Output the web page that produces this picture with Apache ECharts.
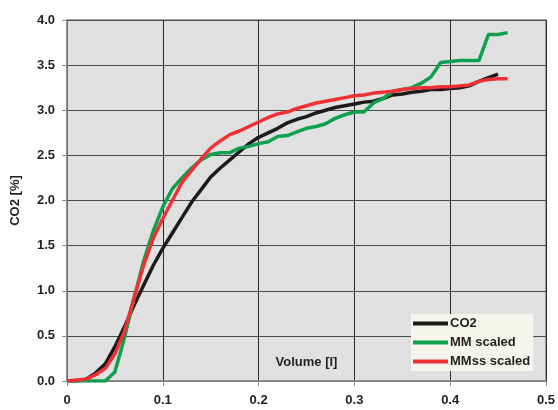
<!DOCTYPE html>
<html>
<head>
<meta charset="utf-8">
<script src="https://cdn.jsdelivr.net/npm/echarts@6/dist/echarts.min.js"></script>
<style>
  html, body { margin: 0; padding: 0; background: #fff; }
  #chart { width: 558px; height: 410px; }
</style>
</head>
<body>
<div id="chart"></div>
<script>
// volume steps [l]
var volume = [0, 0.01, 0.02, 0.03, 0.04, 0.05, 0.06, 0.07, 0.08, 0.09,
  0.10, 0.11, 0.12, 0.13, 0.14, 0.15, 0.16, 0.17, 0.18, 0.19,
  0.20, 0.21, 0.22, 0.23, 0.24, 0.25, 0.26, 0.27, 0.28, 0.29,
  0.30, 0.31, 0.32, 0.33, 0.34, 0.35, 0.36, 0.37, 0.38, 0.39,
  0.40, 0.41, 0.42, 0.43, 0.44, 0.45, 0.46];

// CO2 [%] (measured, ends at 0.45)
var co2 = [0, 0, 0.02, 0.09, 0.19, 0.38, 0.60, 0.84, 1.06, 1.28,
  1.47, 1.64, 1.81, 1.98, 2.12, 2.26, 2.36, 2.45, 2.54, 2.63,
  2.70, 2.75, 2.80, 2.86, 2.90, 2.93, 2.97, 3.00, 3.03, 3.05,
  3.07, 3.09, 3.10, 3.13, 3.17, 3.18, 3.20, 3.21, 3.23, 3.23,
  3.24, 3.25, 3.27, 3.32, 3.36, 3.40];

var mmScaled = [0, 0, 0, 0, 0, 0.10, 0.48, 0.92, 1.33, 1.66,
  1.93, 2.13, 2.25, 2.36, 2.45, 2.51, 2.53, 2.53, 2.58, 2.60,
  2.63, 2.65, 2.71, 2.72, 2.76, 2.80, 2.82, 2.85, 2.91, 2.95,
  2.98, 2.98, 3.08, 3.13, 3.21, 3.23, 3.25, 3.30, 3.37, 3.53,
  3.54, 3.55, 3.55, 3.55, 3.84, 3.84, 3.86];

var mmssScaled = [0, 0.01, 0.02, 0.07, 0.14, 0.30, 0.55, 0.92, 1.28, 1.58,
  1.80, 2.00, 2.20, 2.33, 2.46, 2.58, 2.66, 2.73, 2.77, 2.82,
  2.87, 2.92, 2.96, 2.98, 3.02, 3.05, 3.08, 3.10, 3.12, 3.14,
  3.16, 3.17, 3.19, 3.20, 3.21, 3.23, 3.24, 3.25, 3.25, 3.26,
  3.26, 3.27, 3.28, 3.32, 3.34, 3.35, 3.35];

var seriesNames = ['CO2', 'MM scaled', 'MMss scaled'];
var seriesColors = ['#1c1a1b', '#0ea04e', '#ef3034'];

function pairs(vals) {
  return vals.map(function (v, i) { return [volume[i], v]; });
}

var font = '"Liberation Sans", Arial, sans-serif';
var chart = echarts.init(document.getElementById('chart'));

var option = {
  animation: false,
  grid: {
    left: 67, right: 11, top: 20, bottom: 29,
    show: true,
    backgroundColor: '#e0e0e0',
    borderColor: '#8c8c8c',
    borderWidth: 1.5
  },
  legend: {
    data: seriesNames,
    orient: 'vertical',
    left: 411,
    top: 314,
    icon: 'rect',
    itemWidth: 35,
    itemHeight: 4,
    itemGap: 6,
    padding: [3, 3, 3, 2],
    backgroundColor: '#f5f5ee',
    textStyle: { fontFamily: font, fontWeight: 'bold', fontSize: 13, color: '#231f20', padding: [0, 0, 0, -3] }
  },
  xAxis: {
    type: 'value',
    min: 0, max: 0.5, interval: 0.1,
    name: 'Volume [l]',
    nameLocation: 'middle',
    nameGap: -25,
    nameTextStyle: { fontFamily: font, fontWeight: 'bold', fontSize: 13, color: '#231f20' },
    axisLine: { show: true, lineStyle: { color: '#8c8c8c', width: 1.5 } },
    axisTick: { show: true, length: 5, lineStyle: { color: '#8c8c8c' } },
    axisLabel: {
      margin: 13, fontFamily: font, fontWeight: 'bold', fontSize: 13, color: '#231f20',
      formatter: function (v) { return v === 0 ? '0' : v.toFixed(1); }
    },
    splitLine: { show: true, lineStyle: { color: '#2a2a2a', width: 1 } }
  },
  yAxis: {
    type: 'value',
    min: 0, max: 4, interval: 0.5,
    name: 'CO2 [%]',
    nameLocation: 'middle',
    nameGap: 45,
    nameTextStyle: { fontFamily: font, fontWeight: 'bold', fontSize: 13, color: '#231f20' },
    axisLine: { show: true, lineStyle: { color: '#8c8c8c', width: 1.5 } },
    axisTick: { show: true, length: 5, lineStyle: { color: '#8c8c8c' } },
    axisLabel: {
      margin: 12, fontFamily: font, fontWeight: 'bold', fontSize: 13, color: '#231f20',
      formatter: function (v) { return v.toFixed(1); }
    },
    splitLine: { show: true, lineStyle: { color: '#4a4a4a', width: 1 } }
  },
  series: [
    { name: seriesNames[0], type: 'line', data: pairs(co2), showSymbol: false, symbol: 'none',
      color: seriesColors[0], lineStyle: { width: 3.5, color: seriesColors[0] } },
    { name: seriesNames[1], type: 'line', data: pairs(mmScaled), showSymbol: false, symbol: 'none',
      color: seriesColors[1], lineStyle: { width: 3.5, color: seriesColors[1] } },
    { name: seriesNames[2], type: 'line', data: pairs(mmssScaled), showSymbol: false, symbol: 'none',
      color: seriesColors[2], lineStyle: { width: 3.5, color: seriesColors[2] } }
  ]
};

chart.setOption(option);
</script>
</body>
</html>
